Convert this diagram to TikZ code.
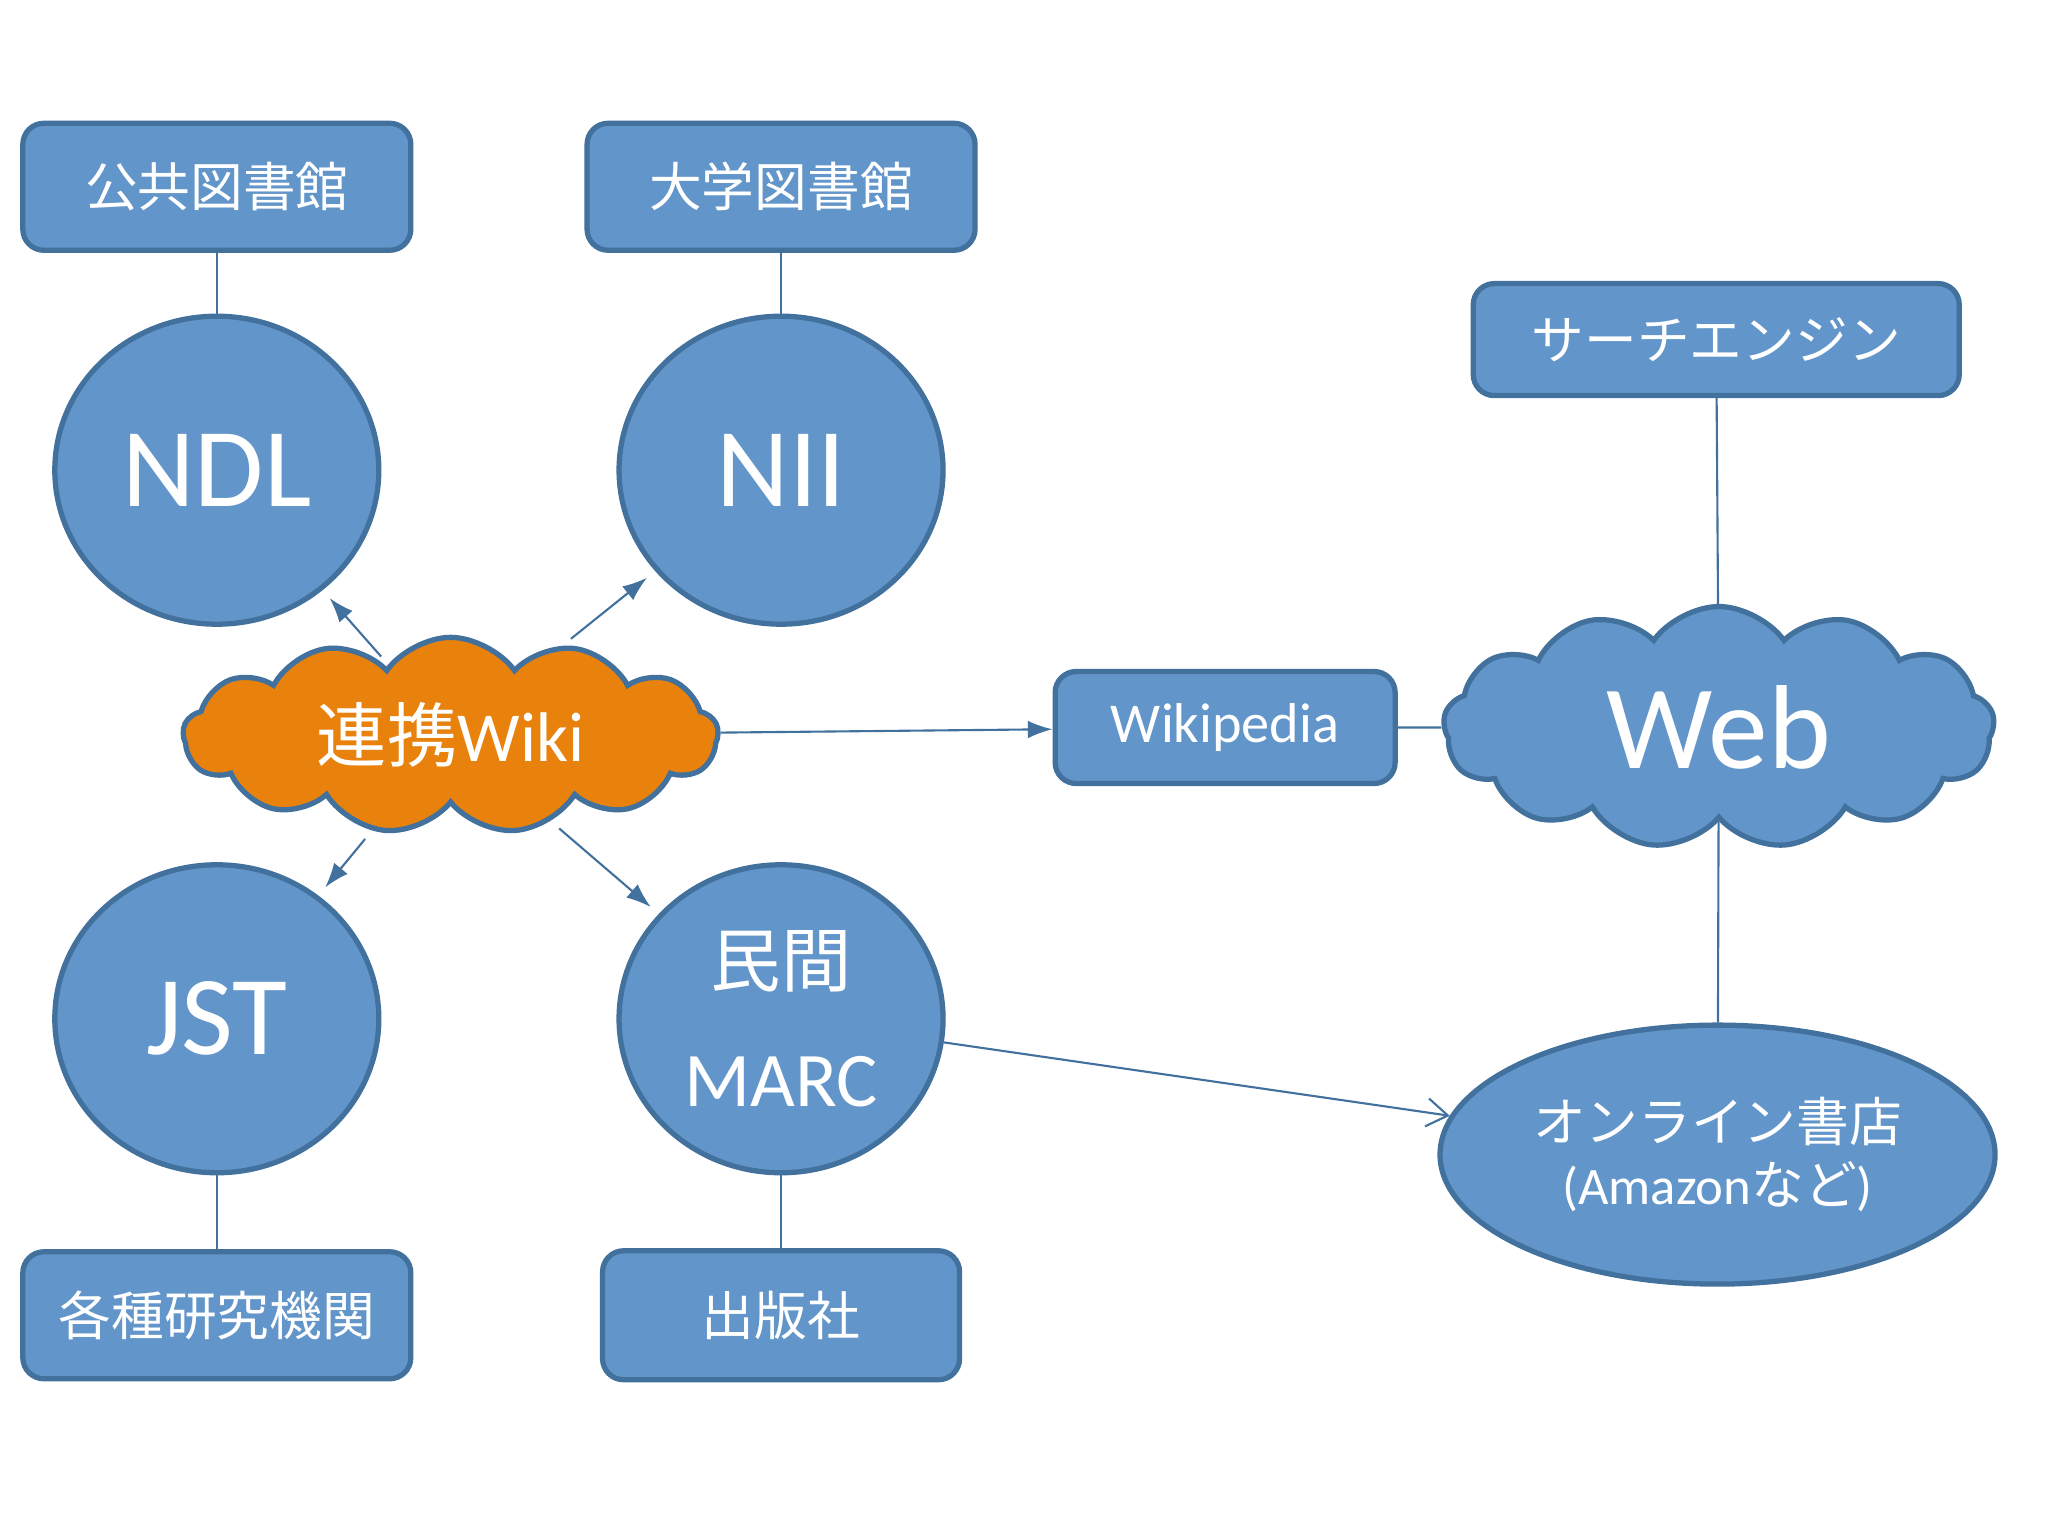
\documentclass[tikz,border=0pt]{standalone}
\usepackage{fontspec}
\setmainfont{Carlito}
\newfontfamily\cjk{Noto Sans CJK JP}
\usetikzlibrary{shapes.geometric,shapes.symbols,arrows.meta}
\definecolor{fillb}{HTML}{6295C9}
\definecolor{edgeb}{HTML}{41719C}
\definecolor{orng}{HTML}{E8820C}
\begin{document}
\begin{tikzpicture}[x=0.01306cm,y=-0.01306cm,
 box/.style={rectangle,rounded corners=6pt,draw=edgeb,line width=1.5pt,fill=fillb,text=white,minimum width=3.88cm,minimum height=1.27cm,font=\cjk\fontsize{15}{18}\selectfont},
 circ/.style={ellipse,draw=edgeb,line width=1.5pt,fill=fillb,text=white,minimum width=3.24cm,minimum height=3.08cm,font=\fontsize{32}{36}\selectfont},
 cl/.style={cloud,cloud puffs=13,cloud puff arc=110,aspect=2.5,draw=edgeb,line width=1.5pt,fill=fillb,text=white,inner sep=0pt},
 ln/.style={draw=edgeb,line width=0.6pt},
 ar/.style={ln,-{Latex[length=7pt,width=5pt]},shorten >=3pt,shorten <=3pt}]
\useasboundingbox[fill=white] (0,0) rectangle (1568,1176);
\node[box] (pl) at (166,143) {公共図書館};
\node[box] (ul) at (598,143) {大学図書館};
\node[box] (ri) at (166,1007) {各種研究機関};
\node[box,minimum width=3.57cm,minimum height=1.29cm] (pub) at (598,1007) {出版社};
\node[box,minimum width=4.86cm,minimum height=1.12cm] (se) at (1314,260) {サーチエンジン};
\node[box,minimum width=3.40cm,minimum height=1.12cm,font=\fontsize{16}{19}\selectfont] (wp) at (938,557) {Wikipedia};
\node[circ] (ndl) at (166,360) {NDL};
\node[circ] (nii) at (598,360) {NII};
\node[circ] (jst) at (166,780) {JST};
\node[circ,align=center] (marc) at (598,780) {{\cjk\fontsize{20}{24}\selectfont 民間}\\[-2pt]{\fontsize{22}{26}\selectfont MARC}};
\node[cl,minimum width=5.51cm,minimum height=2.42cm,font=\fontsize{34}{38}\selectfont] (web) at (1316,557) {Web};
\node[cl,fill=orng,minimum width=5.35cm,minimum height=1.96cm,font=\fontsize{20}{24}\selectfont] (wiki) at (345,563) {{\cjk 連携}Wiki};
\node[ellipse,draw=edgeb,line width=1.5pt,fill=fillb,text=white,minimum width=5.17cm,minimum height=2.59cm,align=center,font=\fontsize{15}{18}\selectfont] (os) at (1315,884) {{\cjk オンライン書店}\\({Amazon}{\cjk など})};
\draw[ln] (pl) -- (ndl);
\draw[ln] (ul) -- (nii);
\draw[ln] (ri) -- (jst);
\draw[ln] (pub) -- (marc);
\draw[ln] (se) -- (web);
\draw[ln] (web) -- (os);
\draw[ln] (wp) -- (web);
\draw[ar] (wiki) -- (ndl);
\draw[ar] (wiki) -- (nii);
\draw[ar] (wiki) -- (jst);
\draw[ar] (wiki) -- (marc);
\draw[ar,shorten <=0pt,shorten >=0pt] (wiki) -- (wp);
\draw[ln,-{Straight Barb[length=6pt,width=8pt]}] (marc) -- (os);
\end{tikzpicture}
\end{document}
